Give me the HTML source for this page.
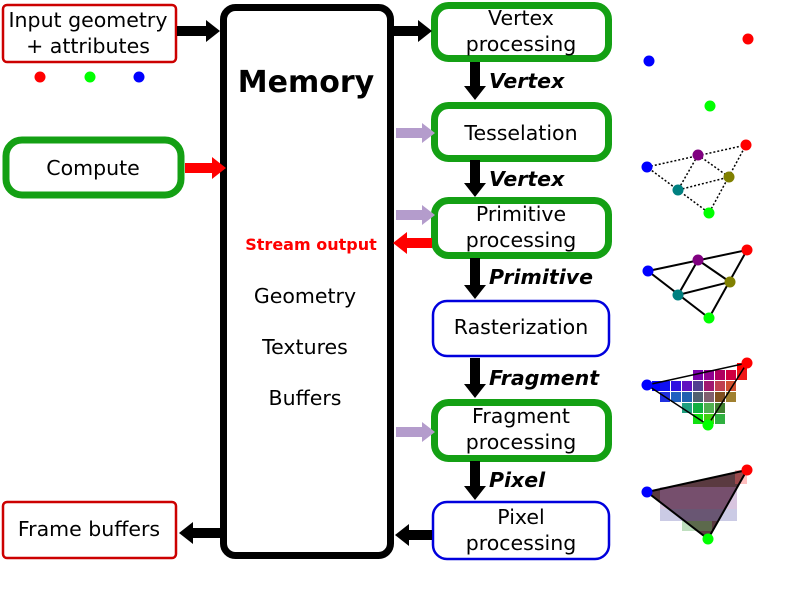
<!DOCTYPE html>
<html><head><meta charset="utf-8"><style>html,body{margin:0;padding:0;background:#fff}svg{display:block}text{font-family:"DejaVu Sans","Liberation Sans",sans-serif}</style></head>
<body>
<svg width="797" height="594" viewBox="0 0 797 594" xmlns="http://www.w3.org/2000/svg">
<rect x="3" y="5" width="173" height="57" rx="4" fill="#fff" stroke="#cc0000" stroke-width="2.5"/>
<rect x="3" y="502" width="173" height="56" rx="4" fill="#fff" stroke="#cc0000" stroke-width="2.5"/>
<rect x="6" y="140" width="175" height="55" rx="16" fill="#fff" stroke="#14a014" stroke-width="7"/>
<rect x="223.5" y="7.5" width="167" height="548" rx="12" fill="#fff" stroke="#000" stroke-width="7"/>
<rect x="434.5" y="5.5" width="174" height="53" rx="14" fill="#fff" stroke="#14a014" stroke-width="7"/>
<rect x="434.5" y="105.5" width="174" height="53" rx="14" fill="#fff" stroke="#14a014" stroke-width="7"/>
<rect x="434.5" y="200.5" width="174" height="55" rx="14" fill="#fff" stroke="#14a014" stroke-width="7"/>
<rect x="433" y="301" width="176" height="55" rx="14" fill="#fff" stroke="#0000dd" stroke-width="2.5"/>
<rect x="434.5" y="402.5" width="174" height="56" rx="14" fill="#fff" stroke="#14a014" stroke-width="7"/>
<rect x="433" y="502" width="176" height="57" rx="14" fill="#fff" stroke="#0000dd" stroke-width="2.5"/>
<g font-size="20.5" text-anchor="middle" fill="#000">
<text x="88" y="27">Input geometry</text>
<text x="88" y="53">+ attributes</text>
<text x="93" y="175">Compute</text>
<text x="89" y="536">Frame buffers</text>
<text x="521" y="25">Vertex</text>
<text x="521" y="51">processing</text>
<text x="521" y="140">Tesselation</text>
<text x="521" y="221">Primitive</text>
<text x="521" y="247">processing</text>
<text x="521" y="334">Rasterization</text>
<text x="521" y="423">Fragment</text>
<text x="521" y="449">processing</text>
<text x="521" y="524">Pixel</text>
<text x="521" y="550">processing</text>
<text x="305" y="303">Geometry</text>
<text x="305" y="354">Textures</text>
<text x="305" y="405">Buffers</text>
</g>
<text x="306" y="92" font-size="30" font-weight="bold" text-anchor="middle">Memory</text>
<text x="311" y="250" font-size="16" font-weight="bold" fill="#ff0000" text-anchor="middle">Stream output</text>
<g font-size="20.5" font-weight="bold" font-style="italic">
<text x="489" y="88">Vertex</text>
<text x="489" y="186">Vertex</text>
<text x="489" y="284">Primitive</text>
<text x="489" y="385">Fragment</text>
<text x="489" y="487">Pixel</text>
</g>
<g fill="#000">
<polygon points="177,26 206,26 206,20 220,31 206,42 206,36 177,36"/>
<polygon points="392,26 418,26 418,20 432,31 418,42 418,36 392,36"/>
<polygon points="220,528 193,528 193,522 179,533 193,544 193,538 220,538"/>
<polygon points="432,530 409,530 409,524 395,535 409,546 409,540 432,540"/>
<polygon points="470,62 480,62 480,86 486,86 475,100 464,86 470,86"/>
<polygon points="470,160 480,160 480,183 486,183 475,197 464,183 470,183"/>
<polygon points="470,258 480,258 480,285 486,285 475,299 464,285 470,285"/>
<polygon points="470,358 480,358 480,384 486,384 475,398 464,384 470,384"/>
<polygon points="470,461 480,461 480,486 486,486 475,500 464,486 470,486"/>
</g>
<g fill="#b49ccc">
<polygon points="396,128 422,128 422,123 435,133 422,143 422,138 396,138"/>
<polygon points="396,210 422,210 422,205 435,215 422,225 422,220 396,220"/>
<polygon points="396,427 422,427 422,422 435,432 422,442 422,437 396,437"/>
</g>
<g fill="#ff0000">
<polygon points="185,163 212,163 212,157 226,168 212,179 212,173 185,173"/>
<polygon points="432,238 407,238 407,232 393,243 407,254 407,248 432,248"/>
</g>
<circle cx="40" cy="77" r="5.5" fill="#f00"/><circle cx="90" cy="77" r="5.5" fill="#0f0"/><circle cx="139" cy="77" r="5.5" fill="#00f"/>
<circle cx="649" cy="61" r="5.5" fill="#00f"/><circle cx="748" cy="39" r="5.5" fill="#f00"/><circle cx="710" cy="106" r="5.5" fill="#0f0"/>
<g stroke="#000" stroke-width="1.5" stroke-dasharray="2,2" fill="none">
<polygon points="647,167 746,145 709,213"/>
<polygon points="698,155 729,177 678,190"/>
</g>
<circle cx="647" cy="167" r="5.5" fill="#00f"/><circle cx="698" cy="155" r="5.5" fill="#800080"/><circle cx="746" cy="145" r="5.5" fill="#f00"/>
<circle cx="729" cy="177" r="5.5" fill="#808000"/><circle cx="678" cy="190" r="5.5" fill="#008080"/><circle cx="709" cy="213" r="5.5" fill="#0f0"/>
<g stroke="#000" stroke-width="2" fill="none">
<polygon points="648,271 747,250 709,318"/>
<polygon points="698,260 730,282 678,295"/>
</g>
<circle cx="648" cy="271" r="5.5" fill="#00f"/><circle cx="698" cy="260" r="5.5" fill="#800080"/><circle cx="747" cy="250" r="5.5" fill="#f00"/>
<circle cx="730" cy="282" r="5.5" fill="#808000"/><circle cx="678" cy="295" r="5.5" fill="#008080"/><circle cx="709" cy="318" r="5.5" fill="#0f0"/>
<g>
<rect x="652" y="381" width="10" height="10" fill="#0000ff"/>
<rect x="693" y="370" width="10" height="10" fill="#7a00aa"/><rect x="704" y="370" width="10" height="10" fill="#900090"/><rect x="715" y="370" width="10" height="10" fill="#b00060"/><rect x="726" y="370" width="10" height="10" fill="#d00040"/><rect x="737" y="363" width="10" height="10" fill="#ff0000"/><rect x="737" y="370" width="10" height="10" fill="#ee1818"/>
<rect x="660" y="381" width="10" height="10" fill="#1010f0"/><rect x="671" y="381" width="10" height="10" fill="#3010e0"/><rect x="682" y="381" width="10" height="10" fill="#6010c0"/><rect x="693" y="381" width="10" height="10" fill="#504090"/><rect x="704" y="381" width="10" height="10" fill="#a01870"/><rect x="715" y="381" width="10" height="10" fill="#c04050"/><rect x="726" y="381" width="10" height="10" fill="#d05030"/>
<rect x="660" y="392" width="10" height="10" fill="#2030e0"/><rect x="671" y="392" width="10" height="10" fill="#2060c0"/><rect x="682" y="392" width="10" height="10" fill="#2060b0"/><rect x="693" y="392" width="10" height="10" fill="#506070"/><rect x="704" y="392" width="10" height="10" fill="#806070"/><rect x="715" y="392" width="10" height="10" fill="#805020"/><rect x="726" y="392" width="10" height="10" fill="#a08030"/>
<rect x="682" y="403" width="10" height="10" fill="#20a080"/><rect x="693" y="403" width="10" height="10" fill="#10b040"/><rect x="704" y="403" width="10" height="10" fill="#50b050"/><rect x="715" y="403" width="10" height="10" fill="#408030"/>
<rect x="693" y="414" width="10" height="10" fill="#10e010"/><rect x="704" y="414" width="10" height="10" fill="#40d010"/><rect x="715" y="414" width="10" height="10" fill="#30b040"/>
</g>
<polygon points="647,385 747,363 708,425" fill="none" stroke="#000" stroke-width="1.5"/>
<circle cx="647" cy="385" r="5.5" fill="#00f"/><circle cx="747" cy="363" r="5.5" fill="#f00"/><circle cx="708" cy="425" r="5.5" fill="#0f0"/>
<polygon points="647,492 747,470 708,539" fill="#5a3a40"/>
<g opacity="0.4">
<rect x="660" y="487" width="77" height="22" fill="#a070b0"/>
<rect x="660" y="509" width="77" height="12" fill="#8080c0"/>
<rect x="682" y="521" width="30" height="10" fill="#60b060"/>
<rect x="735" y="470" width="12" height="14" fill="#ff6060"/>
</g>
<polygon points="647,492 747,470 708,539" fill="none" stroke="#000" stroke-width="2"/>
<circle cx="647" cy="492" r="5.5" fill="#00f"/><circle cx="747" cy="470" r="5.5" fill="#f00"/><circle cx="708" cy="539" r="5.5" fill="#0f0"/>
</svg>
</body></html>
